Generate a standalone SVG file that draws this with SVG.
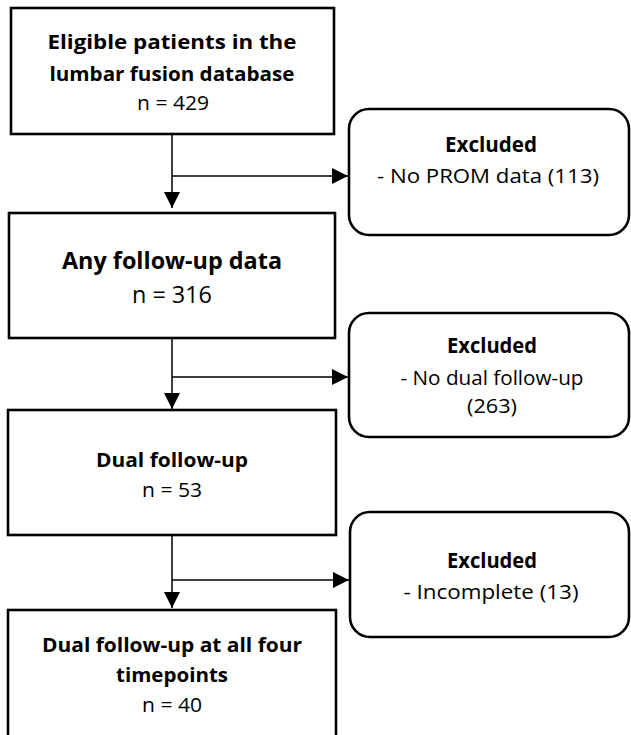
<svg xmlns="http://www.w3.org/2000/svg" width="631" height="735" viewBox="0 0 631 735">
<style>
.box{fill:#fff;stroke:#000;stroke-width:2.6}
.rbox{fill:#fff;stroke:#000;stroke-width:2.6}
.t{font-family:"Open Sans","Liberation Sans",sans-serif;fill:#000;text-anchor:middle}
.b{font-weight:bold}
.c{stroke:#000;stroke-width:1.5;fill:none}
</style>
<defs>
<marker id="ah" markerWidth="17" markerHeight="16" refX="16" refY="8" orient="auto" markerUnits="userSpaceOnUse">
<path d="M0,0 L16,8 L0,16 Z" fill="#000"/>
</marker>
</defs>
<rect width="631" height="735" fill="#fff"/>
<g id="connectors">
<line class="c" x1="172" y1="134" x2="172" y2="208" marker-end="url(#ah)"/>
<line class="c" x1="172" y1="176" x2="348" y2="176" marker-end="url(#ah)"/>
<line class="c" x1="172" y1="338" x2="172" y2="409" marker-end="url(#ah)"/>
<line class="c" x1="172" y1="377" x2="348" y2="377" marker-end="url(#ah)"/>
<line class="c" x1="172" y1="535" x2="172" y2="608" marker-end="url(#ah)"/>
<line class="c" x1="172" y1="580" x2="349" y2="580" marker-end="url(#ah)"/>
</g>
<g id="n1">
<rect class="box" x="11" y="8" width="323" height="126"/>
<text class="t b" x="172" y="49" font-size="20" textLength="249" lengthAdjust="spacingAndGlyphs">Eligible patients in the</text>
<text class="t b" x="172" y="81" font-size="20" textLength="245" lengthAdjust="spacingAndGlyphs">lumbar fusion database</text>
<text class="t" x="173" y="110" font-size="20" textLength="72" lengthAdjust="spacingAndGlyphs">n = 429</text>
</g>
<g id="n2">
<rect class="box" x="9" y="213" width="326" height="125"/>
<text class="t b" x="172" y="269" font-size="23.5" textLength="220" lengthAdjust="spacingAndGlyphs">Any follow-up data</text>
<text class="t" x="172" y="303" font-size="23.5" textLength="80" lengthAdjust="spacingAndGlyphs">n = 316</text>
</g>
<g id="n3">
<rect class="box" x="8" y="410" width="328" height="125"/>
<text class="t b" x="172" y="467" font-size="20" textLength="152" lengthAdjust="spacingAndGlyphs">Dual follow-up</text>
<text class="t" x="172" y="497" font-size="20" textLength="60" lengthAdjust="spacingAndGlyphs">n = 53</text>
</g>
<g id="n4">
<rect class="box" x="8" y="610" width="328" height="130"/>
<text class="t b" x="172" y="652" font-size="20" textLength="260" lengthAdjust="spacingAndGlyphs">Dual follow-up at all four</text>
<text class="t b" x="172" y="682" font-size="20" textLength="112" lengthAdjust="spacingAndGlyphs">timepoints</text>
<text class="t" x="172" y="712" font-size="20" textLength="60" lengthAdjust="spacingAndGlyphs">n = 40</text>
</g>
<g id="e1">
<rect class="rbox" x="349" y="109" width="280" height="126" rx="20" ry="20"/>
<text class="t b" x="491" y="152" font-size="20.5" textLength="92" lengthAdjust="spacingAndGlyphs">Excluded</text>
<text class="t" x="488" y="183" font-size="20.5" textLength="222" lengthAdjust="spacingAndGlyphs">- No PROM data (113)</text>
</g>
<g id="e2">
<rect class="rbox" x="349" y="313" width="280" height="124" rx="20" ry="20"/>
<text class="t b" x="492" y="353" font-size="20.5" textLength="90" lengthAdjust="spacingAndGlyphs">Excluded</text>
<text class="t" x="492" y="385" font-size="20.5" textLength="183" lengthAdjust="spacingAndGlyphs">- No dual follow-up</text>
<text class="t" x="492" y="413" font-size="20.5" textLength="50" lengthAdjust="spacingAndGlyphs">(263)</text>
</g>
<g id="e3">
<rect class="rbox" x="350" y="512" width="279" height="125" rx="20" ry="20"/>
<text class="t b" x="492" y="568" font-size="20.5" textLength="90" lengthAdjust="spacingAndGlyphs">Excluded</text>
<text class="t" x="491" y="599" font-size="20.5" textLength="175" lengthAdjust="spacingAndGlyphs">- Incomplete (13)</text>
</g>
</svg>
